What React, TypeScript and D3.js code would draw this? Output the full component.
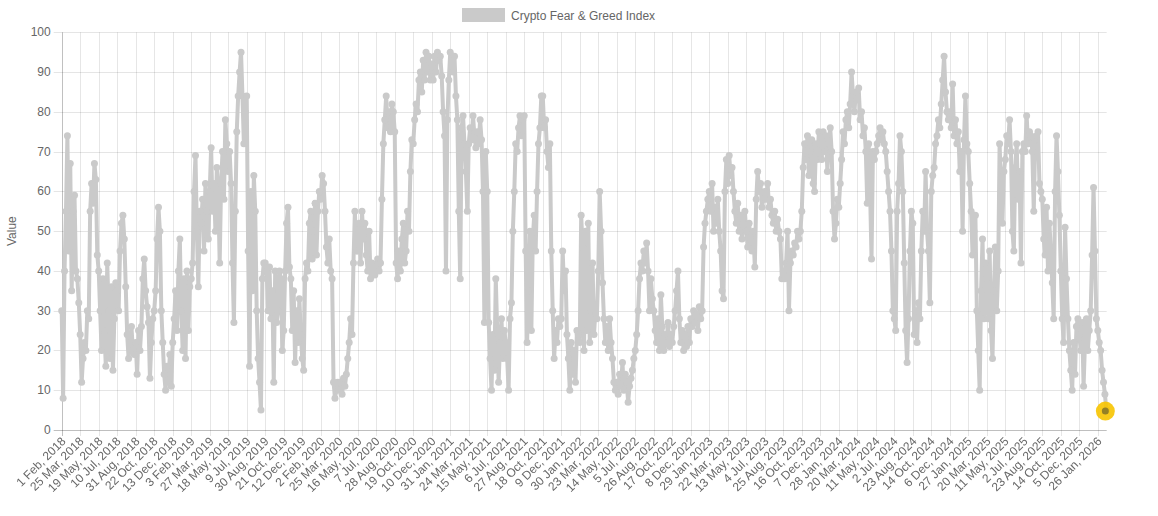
import React from "react";
import * as d3 from "d3";

// ---- data (Crypto Fear & Greed Index, one sample every 4 days) ----
const TICK_LABELS = [
  "1 Feb, 2018", "25 Mar, 2018", "19 May, 2018", "10 Jul, 2018", "31 Aug, 2018", "22 Oct, 2018", "13 Dec, 2018",
  "3 Feb, 2019", "27 Mar, 2019", "18 May, 2019", "9 Jul, 2019", "30 Aug, 2019", "21 Oct, 2019", "12 Dec, 2019",
  "2 Feb, 2020", "25 Mar, 2020", "16 May, 2020", "7 Jul, 2020", "28 Aug, 2020", "19 Oct, 2020", "10 Dec, 2020",
  "31 Jan, 2021", "24 Mar, 2021", "15 May, 2021", "6 Jul, 2021", "27 Aug, 2021", "18 Oct, 2021", "9 Dec, 2021",
  "30 Jan, 2022", "23 Mar, 2022", "14 May, 2022", "5 Jul, 2022", "26 Aug, 2022", "17 Oct, 2022", "8 Dec, 2022",
  "29 Jan, 2023", "22 Mar, 2023", "13 May, 2023", "4 Jul, 2023", "25 Aug, 2023", "16 Oct, 2023", "7 Dec, 2023",
  "28 Jan, 2024", "20 Mar, 2024", "11 May, 2024", "2 Jul, 2024", "23 Aug, 2024", "14 Oct, 2024", "6 Dec, 2024",
  "27 Jan, 2025", "20 Mar, 2025", "11 May, 2025", "2 Jul, 2025", "23 Aug, 2025", "14 Oct, 2025", "5 Dec, 2025",
  "26 Jan, 2026",
];
const TICK_EVERY = 52; // categories between labelled ticks
const SAMPLE_STEP = 4; // categories between samples
const DAY_COUNT = 2938; // number of categories on the x axis

const fearGreed2018 = [
  30, 8, 40, 55, 74, 45, 67, 35, 55, 59, 40, 38, 32,
  24, 12, 18, 22, 20, 30, 28, 55, 62, 57, 67, 63, 44,
  40, 30, 20, 38, 25, 16, 42, 30, 18, 36, 15, 28, 37,
  35, 30, 45, 52, 54, 48, 36, 24, 18, 22, 26, 20, 19,
  22, 14, 25, 20, 26, 38, 43, 35, 31, 27, 13, 22, 28,
  30, 35, 48, 56, 50, 30, 22, 14, 10, 16, 12, 19, 11,
  22, 28, 35, 25, 40, 48, 30, 20, 38, 18, 40, 25, 36,
];
const fearGreed2019 = [
  38, 42, 60, 69, 50, 36, 55, 52, 58, 45, 62, 55, 48,
  60, 71, 55, 62, 50, 66, 60, 42, 62, 70, 58, 78, 72,
  65, 70, 62, 42, 27, 55, 75, 84, 90, 95, 84, 72, 80,
  84, 45, 16, 60, 35, 64, 55, 30, 18, 12, 5, 38, 42,
  42, 40, 30, 41, 28, 35, 12, 40, 27, 30, 40, 38, 20,
  25, 40, 52, 56, 41, 38, 25, 35, 17, 30, 22, 33, 24,
  18, 15, 38, 42, 40, 52, 55, 43, 50, 57, 44, 55, 60,
];
const fearGreed2020 = [
  58, 64, 62, 55, 46, 42, 48, 40, 38, 12, 8, 10, 12,
  10, 12, 9, 13, 11, 14, 18, 22, 28, 24, 42, 55, 45,
  45, 52, 42, 55, 48, 52, 44, 40, 50, 38, 42, 40, 39,
  41, 43, 40, 42, 58, 72, 78, 84, 76, 80, 75, 82, 80,
  75, 42, 38, 45, 40, 48, 52, 42, 45, 55, 50, 65, 73,
  72, 78, 82, 80, 88, 90, 85, 93, 88, 95, 90, 94, 88,
  92, 88, 94, 90, 95, 93, 94, 89, 80, 74, 40, 78, 88,
];
const fearGreed2021 = [
  95, 93, 90, 94, 84, 78, 55, 38, 76, 79, 72, 65, 55,
  72, 76, 73, 79, 74, 71, 75, 72, 78, 73, 60, 27, 70,
  60, 27, 18, 10, 24, 15, 38, 25, 12, 22, 28, 18, 25,
  22, 18, 10, 28, 32, 50, 60, 72, 70, 76, 79, 74, 78,
  79, 45, 22, 35, 50, 25, 48, 54, 45, 60, 72, 76, 84,
  84, 76, 78, 70, 66, 72, 45, 30, 18, 25, 22, 28, 26,
  28, 45, 35, 40, 24, 18, 10, 22, 14, 20, 12, 25, 24,
];
const fearGreed2022 = [
  22, 54, 46, 20, 50, 25, 52, 22, 30, 42, 24, 30, 28,
  40, 60, 50, 37, 28, 22, 26, 20, 28, 22, 18, 12, 10,
  12, 9, 14, 11, 17, 10, 14, 12, 7, 11, 13, 15, 18,
  20, 24, 30, 38, 42, 40, 45, 42, 47, 40, 30, 38, 33,
  30, 25, 22, 28, 20, 34, 26, 20, 24, 22, 27, 21, 24,
  22, 26, 30, 35, 40, 28, 22, 25, 20, 24, 21, 26, 22,
  28, 26, 30, 27, 29, 25, 31, 28, 30, 46, 52, 55, 58,
];
const fearGreed2023 = [
  60, 55, 62, 50, 56, 52, 58, 50, 45, 35, 33, 60, 68,
  62, 69, 64, 66, 60, 55, 52, 57, 50, 54, 48, 52, 55,
  50, 46, 52, 48, 45, 50, 41, 58, 65, 60, 62, 56, 58,
  60, 58, 62, 56, 58, 54, 52, 55, 50, 53, 50, 48, 38,
  40, 38, 42, 50, 30, 42, 45, 44, 47, 46, 50, 48, 50,
  55, 66, 72, 68, 74, 64, 70, 73, 62, 60, 72, 68, 75,
  72, 68, 75, 70, 74, 65, 72, 76, 70, 55, 48, 52, 58,
];
const fearGreed2024 = [
  56, 62, 68, 75, 72, 78, 80, 76, 82, 90, 84, 80, 85,
  83, 86, 78, 80, 74, 76, 70, 57, 72, 60, 43, 70, 68,
  70, 72, 74, 76, 73, 75, 72, 70, 65, 60, 55, 45, 30,
  28, 25, 55, 62, 74, 70, 60, 42, 25, 17, 28, 45, 55,
  52, 24, 30, 22, 32, 28, 45, 55, 50, 65, 50, 45, 32,
  60, 64, 66, 72, 74, 78, 76, 82, 88, 94, 85, 80, 78,
  80, 76, 87, 74, 78, 72, 75, 65, 70, 50, 73, 84, 72,
];
const fearGreed2025 = [
  70, 62, 55, 44, 50, 54, 30, 20, 10, 35, 48, 28, 42,
  38, 28, 45, 25, 18, 35, 46, 30, 40, 72, 60, 52, 65,
  68, 74, 72, 78, 70, 50, 45, 66, 72, 58, 65, 42, 70,
  72, 70, 79, 72, 75, 74, 70, 55, 73, 74, 75, 62, 60,
  58, 48, 44, 56, 40, 52, 45, 37, 28, 60, 74, 65, 54,
  40, 28, 22, 51, 38, 28, 20, 15, 10, 22, 14, 26, 28,
  24, 20, 27, 11, 22, 28, 20, 25, 30, 44, 61, 45, 28,
  25, 22, 20, 15, 12, 9, 5,
];

const SERIES_NAME = "Crypto Fear & Greed Index";
const Y_TICKS = [0, 10, 20, 30, 40, 50, 60, 70, 80, 90, 100];

// ---- styles ----
const W = 1158;
const H = 516;
const M = { left: 61.7, right: 1106.7, top: 32.3, bottom: 430 };
const GREY = "rgb(202, 202, 202)";
const TEXT = "#666";
const FONT = "'Liberation Sans', Arial, Helvetica, sans-serif";

export default function App() {
  const values = [
    ...fearGreed2018, ...fearGreed2019, ...fearGreed2020, ...fearGreed2021,
    ...fearGreed2022, ...fearGreed2023, ...fearGreed2024, ...fearGreed2025,
  ];
  const data = values.map((v, i) => ({ idx: i * SAMPLE_STEP, v }));

  const x = d3.scaleLinear().domain([0, DAY_COUNT - 1]).range([M.left, M.right]);
  const y = d3.scaleLinear().domain([0, 100]).range([M.bottom, M.top]);

  const line = d3
    .line<{ idx: number; v: number }>()
    .x((d) => x(d.idx))
    .y((d) => y(d.v))
    .curve(d3.curveLinear);

  const last = data[data.length - 1];

  return (
    <svg
      width={W}
      height={H}
      style={{ position: "absolute", left: 0, top: 0, background: "#fff" }}
      fontFamily={FONT}
    >
      {/* legend */}
      <g>
        <rect x={463.5} y={9.5} width={40} height={11} fill={GREY} stroke={GREY} strokeWidth={3} />
        <text x={511} y={19.5} fontSize={12} fill={TEXT}>
          {SERIES_NAME}
        </text>
      </g>

      {/* horizontal grid */}
      {Y_TICKS.map((t) => (
        <g key={"y" + t}>
          <line
            x1={M.left - 8}
            x2={M.right}
            y1={Math.round(y(t)) + 0.5}
            y2={Math.round(y(t)) + 0.5}
            stroke={t === 0 ? "rgba(0,0,0,0.25)" : "rgba(0,0,0,0.1)"}
          />
          <text x={M.left - 11} y={y(t) + 4} fontSize={12} fill={TEXT} textAnchor="end">
            {t}
          </text>
        </g>
      ))}

      {/* vertical grid + x labels */}
      <g opacity={0.99}>
        {TICK_LABELS.map((lab, k) => {
          const px = Math.round(x(k * TICK_EVERY)) + 0.5;
          return (
            <g key={"x" + k}>
              <line
                x1={px}
                x2={px}
                y1={M.top}
                y2={M.bottom + 6}
                stroke={k === 0 ? "rgba(0,0,0,0.25)" : "rgba(0,0,0,0.1)"}
              />
              <text
                transform={`translate(${px + 4},${M.bottom + 12}) rotate(-45)`}
                fontSize={12}
                fill={TEXT}
                textAnchor="end"
              >
                {lab}
              </text>
            </g>
          );
        })}
      </g>

      {/* y axis title */}
      <text
        transform={`translate(16,${(M.top + M.bottom) / 2}) rotate(-90)`}
        fontSize={12}
        fill={TEXT}
        textAnchor="middle"
      >
        Value
      </text>

      {/* series */}
      <path d={line(data) || ""} fill="none" stroke={GREY} strokeWidth={4} strokeLinejoin="round" />
      {data.map((d, i) => (
        <circle key={i} cx={x(d.idx)} cy={y(d.v)} r={3.5} fill={GREY} />
      ))}

      {/* hovered last point */}
      <circle cx={x(last.idx) - 1} cy={y(last.v) + 1} r={9.5} fill="rgba(247, 196, 0, 0.9)" />
      <circle cx={x(last.idx) - 1} cy={y(last.v) + 1} r={3.5} fill="rgba(130, 115, 40, 0.85)" />
    </svg>
  );
}
